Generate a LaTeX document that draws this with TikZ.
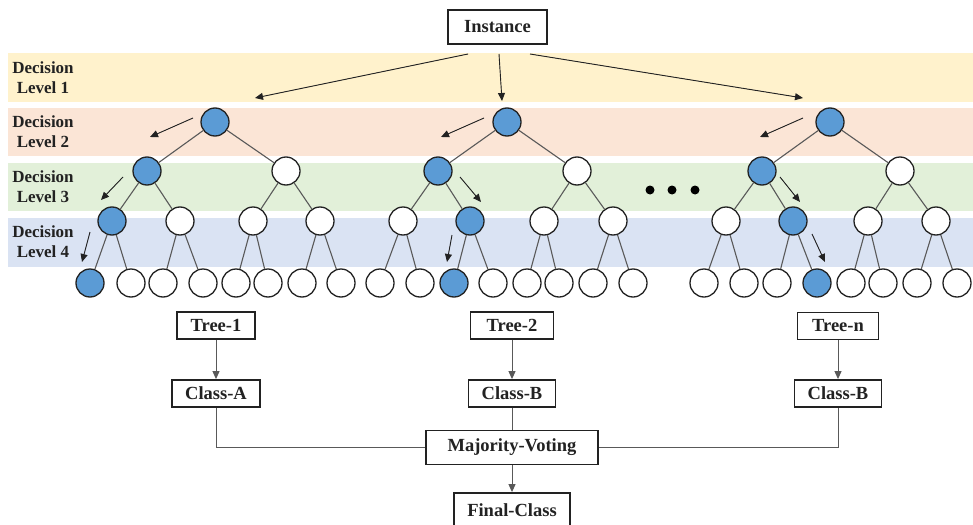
\documentclass[tikz,border=0pt]{standalone}
\usepackage{fontspec}
\setmainfont{Liberation Serif}
\usetikzlibrary{arrows.meta}
\definecolor{bandY}{HTML}{FFF2CC}
\definecolor{bandP}{HTML}{FBE5D6}
\definecolor{bandG}{HTML}{E2F0D9}
\definecolor{bandB}{HTML}{DAE3F3}
\definecolor{nodeblue}{HTML}{5B9BD5}
\definecolor{ink}{HTML}{222222}
\begin{document}
\begin{tikzpicture}[x=1pt,y=-1pt,
  wn/.style={circle, draw=ink, line width=1.3pt, fill=white, minimum size=28pt, inner sep=0pt},
  bn/.style={wn, fill=nodeblue},
  tedge/.style={draw=black!65, line width=1.1pt},
  tip/.style={-{Triangle[length=8pt,width=7pt]}},
  arr/.style={tip, line width=0.9pt, draw=ink, fill=ink},
  conn/.style={draw=black!65, line width=1pt},
  lvl/.style={align=center, font=\fontsize{17}{20}\selectfont\bfseries, text=ink, inner sep=0pt},
  bx/.style={draw=ink, line width=1.8pt, fill=white, font=\fontsize{18.5}{20}\selectfont\bfseries, text=ink, inner sep=0pt, minimum height=27pt},
  dotn/.style={circle, fill=black, minimum size=9pt, inner sep=0pt}
]
\useasboundingbox (0,0) rectangle (973,524);
% bands
\fill[bandY] (8,53) rectangle (973,102);
\fill[bandP] (8,108) rectangle (973,156);
\fill[bandG] (8,163) rectangle (973,211);
\fill[bandB] (8,218) rectangle (973,267);
\node[lvl] (lv1) at (43,78) {Decision\\Level 1};
\node[lvl] (lv2) at (43,132) {Decision\\Level 2};
\node[lvl] (lv3) at (43,187) {Decision\\Level 3};
\node[lvl] (lv4) at (43,242) {Decision\\Level 4};

% Tree 1
\node[bn] (r1) at (215,122) {};
\node[bn] (a) at (147,171) {};
\node[wn] (b) at (286,171) {};
\node[bn] (a1) at (112,221) {};
\node[wn] (a2) at (180,221) {};
\node[wn] (b1) at (253,221) {};
\node[wn] (b2) at (320,221) {};
\node[bn] (p1) at (90,283) {};
\node[wn] (p2) at (131,283) {};
\node[wn] (p3) at (163,283) {};
\node[wn] (p4) at (203,283) {};
\node[wn] (p5) at (236,283) {};
\node[wn] (p6) at (268,283) {};
\node[wn] (p7) at (302,283) {};
\node[wn] (p8) at (341,283) {};
\draw[tedge] (r1)--(a) (r1)--(b) (a)--(a1) (a)--(a2) (b)--(b1) (b)--(b2)
  (a1)--(p1) (a1)--(p2) (a2)--(p3) (a2)--(p4) (b1)--(p5) (b1)--(p6) (b2)--(p7) (b2)--(p8);

% Tree 2
\node[bn] (r2) at (507,122) {};
\node[bn] (c) at (438,171) {};
\node[wn] (d) at (577,171) {};
\node[wn] (c1) at (403,221) {};
\node[bn] (c2) at (470,221) {};
\node[wn] (d1) at (544,221) {};
\node[wn] (d2) at (613,221) {};
\node[wn] (q1) at (380,283) {};
\node[wn] (q2) at (420,283) {};
\node[bn] (q3) at (454,283) {};
\node[wn] (q4) at (493,283) {};
\node[wn] (q5) at (527,283) {};
\node[wn] (q6) at (559,283) {};
\node[wn] (q7) at (593,283) {};
\node[wn] (q8) at (633,283) {};
\draw[tedge] (r2)--(c) (r2)--(d) (c)--(c1) (c)--(c2) (d)--(d1) (d)--(d2)
  (c1)--(q1) (c1)--(q2) (c2)--(q3) (c2)--(q4) (d1)--(q5) (d1)--(q6) (d2)--(q7) (d2)--(q8);

% Tree n
\node[bn] (r3) at (830,122) {};
\node[bn] (e) at (762,171) {};
\node[wn] (f) at (900,171) {};
\node[wn] (e1) at (726,221) {};
\node[bn] (e2) at (793,221) {};
\node[wn] (f1) at (868,221) {};
\node[wn] (f2) at (936,221) {};
\node[wn] (s1) at (704,283) {};
\node[wn] (s2) at (744,283) {};
\node[wn] (s3) at (777,283) {};
\node[bn] (s4) at (817,283) {};
\node[wn] (s5) at (851,283) {};
\node[wn] (s6) at (883,283) {};
\node[wn] (s7) at (917,283) {};
\node[wn] (s8) at (957,283) {};
\draw[tedge] (r3)--(e) (r3)--(f) (e)--(e1) (e)--(e2) (f)--(f1) (f)--(f2)
  (e1)--(s1) (e1)--(s2) (e2)--(s3) (e2)--(s4) (f1)--(s5) (f1)--(s6) (f2)--(s7) (f2)--(s8);

% dots
\node[dotn] (dt1) at (650,190) {};
\node[dotn] (dt2) at (672,190) {};
\node[dotn] (dt3) at (695,190) {};

% Instance and top arrows
\node[bx, minimum width=99pt, minimum height=34pt] (inst) at (497.5,27) {Instance};
\coordinate (i1) at (468,54); \coordinate (i1e) at (255,98);
\coordinate (i2) at (499,54); \coordinate (i2e) at (502,101);
\coordinate (i3) at (530,54); \coordinate (i3e) at (803,98);
\draw[arr] (i1)--(i1e);
\draw[arr] (i2)--(i2e);
\draw[arr] (i3)--(i3e);

% path indicator arrows
\coordinate (g1s) at (193,118); \coordinate (g1e) at (150,137);
\coordinate (g2s) at (123,177); \coordinate (g2e) at (101,200);
\coordinate (g3s) at (90,232);  \coordinate (g3e) at (82,262);
\coordinate (h1s) at (484,118); \coordinate (h1e) at (441,137);
\coordinate (h2s) at (460,177); \coordinate (h2e) at (481,202);
\coordinate (h3s) at (452,235); \coordinate (h3e) at (447,262);
\coordinate (k1s) at (803,118); \coordinate (k1e) at (760,137);
\coordinate (k2s) at (780,177); \coordinate (k2e) at (800,202);
\coordinate (k3s) at (812,234); \coordinate (k3e) at (825,262);
\draw[arr] (g1s)--(g1e); \draw[arr] (g2s)--(g2e); \draw[arr] (g3s)--(g3e);
\draw[arr] (h1s)--(h1e); \draw[arr] (h2s)--(h2e); \draw[arr] (h3s)--(h3e);
\draw[arr] (k1s)--(k1e); \draw[arr] (k2s)--(k2e); \draw[arr] (k3s)--(k3e);

% bottom boxes
\node[bx, minimum width=78pt] (t1) at (216,325.5) {Tree-1};
\node[bx, minimum width=88pt] (ca) at (216,393.5) {Class-A};
\node[bx, minimum width=83pt] (t2) at (512,325.5) {Tree-2};
\node[bx, minimum width=87pt] (cb) at (512,393.5) {Class-B};
\node[bx, minimum width=81pt] (tn) at (838,326) {Tree-n};
\node[bx, minimum width=87pt] (cn) at (838,393.5) {Class-B};
\node[bx, minimum width=172pt, minimum height=34pt] (mv) at (512,447.5) {Majority-Voting};
\node[bx, minimum width=116pt, minimum height=34pt] (fc) at (512,510) {Final-Class};

\draw[conn, tip, fill=ink] (t1)--(ca);
\draw[conn, tip, fill=ink] (t2)--(cb);
\draw[conn, tip, fill=ink] (tn)--(cn);
\draw[conn] (cb)--(mv);
\draw[conn] (ca.south) |- (mv.west);
\draw[conn] (cn.south) |- (mv.east);
\draw[conn, tip, fill=ink] (mv)--(fc);
\end{tikzpicture}
\end{document}
